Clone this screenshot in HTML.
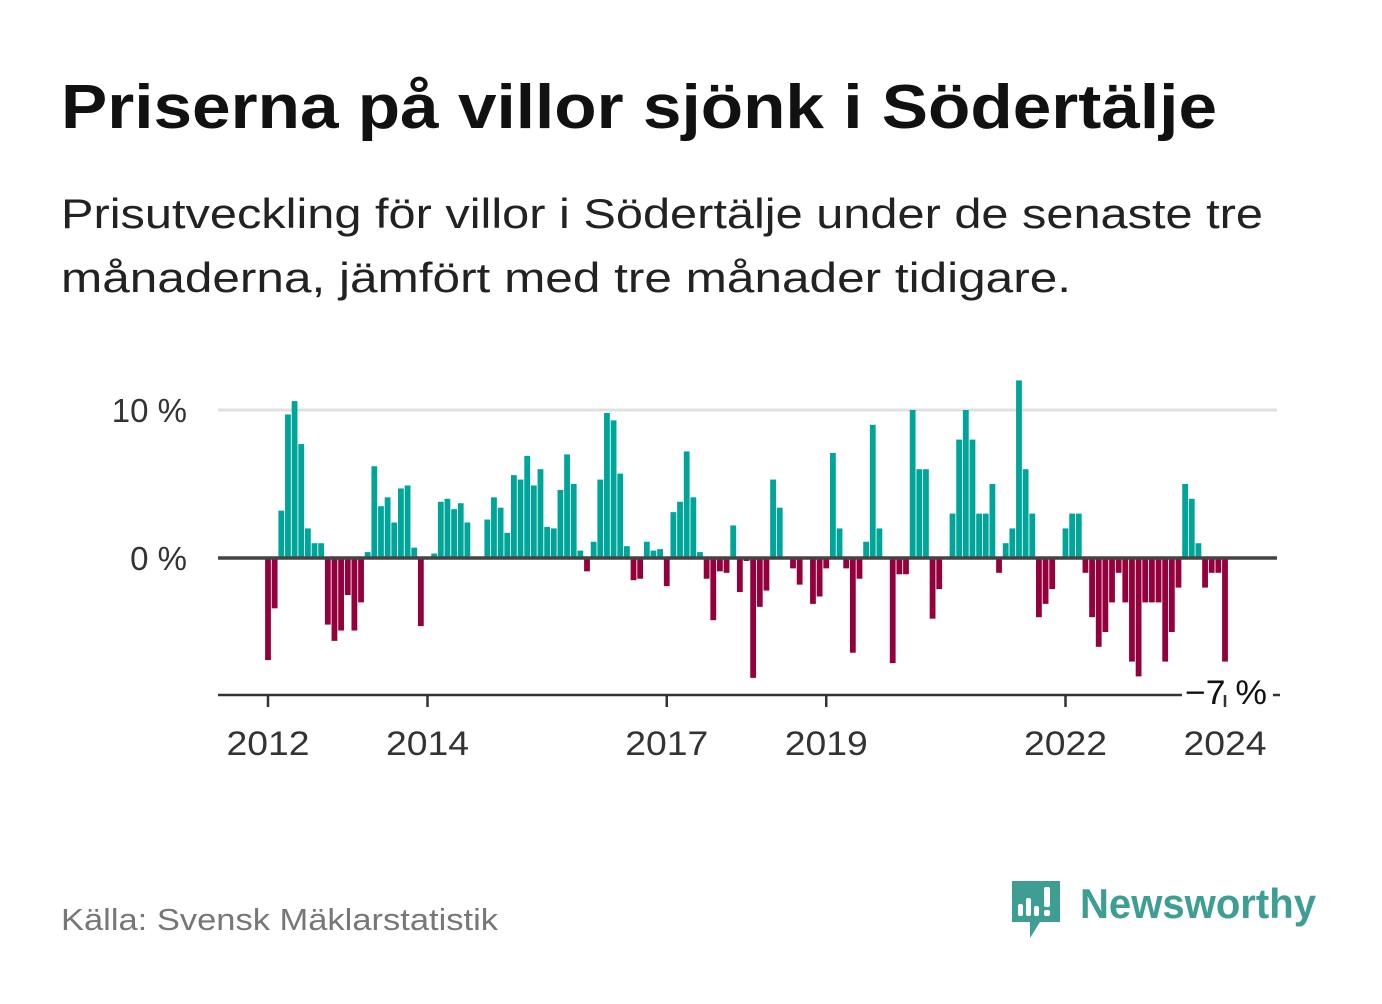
<!DOCTYPE html>
<html><head><meta charset="utf-8"><style>
body{margin:0;background:#fff;}
svg text{font-family:"Liberation Sans","DejaVu Sans",sans-serif;}
</style></head><body>
<svg id="chart" width="1382" height="999" viewBox="0 0 1382 999" xmlns="http://www.w3.org/2000/svg">
<rect width="1382" height="999" fill="#fff"/>
<text x="61" y="128" font-size="62" font-weight="bold" fill="#111" textLength="1156" lengthAdjust="spacingAndGlyphs">Priserna på villor sjönk i Södertälje</text>
<text x="61" y="228" font-size="42" fill="#222" textLength="1202" lengthAdjust="spacingAndGlyphs">Prisutveckling för villor i Södertälje under de senaste tre</text>
<text x="61" y="292" font-size="42" fill="#222" textLength="1010" lengthAdjust="spacingAndGlyphs">månaderna, jämfört med tre månader tidigare.</text>
<g id="plot"></g>
<text x="61" y="930" font-size="31" fill="#777" textLength="437" lengthAdjust="spacingAndGlyphs">Källa: Svensk Mäklarstatistik</text>
<g>
<path d="M1012,881 h48 v41 h-20 l-10,16 v-16 h-18 z" fill="#3f9e93"/>
<rect x="1018" y="904" width="5" height="12" rx="2" fill="#fff"/>
<rect x="1026" y="898" width="5" height="18" rx="2" fill="#fff"/>
<rect x="1034" y="906" width="5" height="10" rx="2" fill="#fff"/>
<rect x="1044" y="887" width="6" height="20" rx="2" fill="#fff"/>
<rect x="1044" y="910" width="6" height="6" rx="2" fill="#fff"/>
<text x="1080" y="918" font-size="42" font-weight="bold" fill="#3f9e93" textLength="236" lengthAdjust="spacingAndGlyphs">Newsworthy</text>
</g>
</svg>
<script>
const values = [-6.9,-3.4,3.2,9.7,10.6,7.7,2.0,1.0,1.0,-4.5,-5.6,-4.9,-2.5,-4.9,-3.0,0.4,6.2,3.5,4.1,2.4,4.7,4.9,0.7,-4.6,0,0.3,3.8,4.0,3.3,3.7,2.4,0.1,0,2.6,4.1,3.4,1.7,5.6,5.3,6.9,4.9,6.0,2.1,2.0,4.6,7.0,5.0,0.5,-0.9,1.1,5.3,9.8,9.3,5.7,0.8,-1.5,-1.4,1.1,0.5,0.6,-1.9,3.1,3.8,7.2,4.1,0.4,-1.4,-4.2,-0.9,-1.0,2.2,-2.3,-0.2,-8.1,-3.3,-2.2,5.3,3.4,0.1,-0.7,-1.8,0,-3.1,-2.6,-0.7,7.1,2.0,-0.7,-6.4,-1.4,1.1,9.0,2.0,0,-7.1,-1.1,-1.1,10.0,6.0,6.0,-4.1,-2.1,0,3.0,8.0,10.0,8.0,3.0,3.0,5.0,-1.0,1.0,2.0,12.0,6.0,3.0,-4.0,-3.1,-2.1,0,2.0,3.0,3.0,-1.0,-4.0,-6.0,-5.0,-3.0,-1.0,-3.0,-7.0,-8.0,-3.0,-3.0,-3.0,-7.0,-5.0,-2.0,5.0,4.0,1.0,-2.0,-1.0,-1.0,-7.0];
const startYear = 2012;
const xTickYears = [2012,2014,2017,2019,2022,2024];
const yTicks = [0,10];
const lastLabel = "−7 %";

const NS="http://www.w3.org/2000/svg";
const g=document.getElementById('plot');
const x0=268, monthW=6.6458, zeroY=558, pxPer=14.8, left=218, right=1277, bottomY=695;
const xs=i=>x0+i*monthW;
const ys=v=>zeroY-v*pxPer;
function mk(tag,attrs){const e=document.createElementNS(NS,tag);for(const k in attrs)e.setAttribute(k,attrs[k]);g.appendChild(e);return e;}
yTicks.forEach(t=>{
  if(t!==0){const l=mk('line',{x1:left,x2:right,y1:ys(t),y2:ys(t),stroke:'#e0e0e0','stroke-width':3});
  
  }
  const tx=mk('text',{x:187,y:ys(t)+12,'font-size':33,fill:'#333','text-anchor':'end'});
  tx.textContent=t+' %';
  
  
});
values.forEach((v,i)=>{
  const y=Math.min(ys(v),zeroY), h=Math.abs(ys(v)-zeroY);
  const r=mk('rect',{x:xs(i)-2.9,y:y,width:5.8,height:h,fill:v>=0?'#00a59a':'#94003c'});
  
  
});
const z=mk('line',{x1:left,x2:right,y1:zeroY,y2:zeroY,stroke:'#444','stroke-width':3.5});


const ax=mk('line',{x1:left,x2:1182,y1:bottomY,y2:bottomY,stroke:'#333','stroke-width':2.5});


xTickYears.forEach(yr=>{
  const x=xs((yr-startYear)*12);
  const tk=mk('line',{x1:x,x2:x,y1:bottomY,y2:bottomY+12,stroke:'#333','stroke-width':2.5});
  
  
  const tx=mk('text',{x:x,y:755,'font-size':34,fill:'#333','text-anchor':'middle',textLength:83,lengthAdjust:'spacingAndGlyphs'});
  tx.textContent=yr;
  
  
});
const ll=mk('text',{x:1185,y:704,'font-size':34,fill:'#111',textLength:82,lengthAdjust:'spacingAndGlyphs'});
ll.textContent=lastLabel;


const dsh=mk('line',{x1:1273,x2:1280,y1:695,y2:695,stroke:'#333','stroke-width':2.5});


</script>
</body></html>
